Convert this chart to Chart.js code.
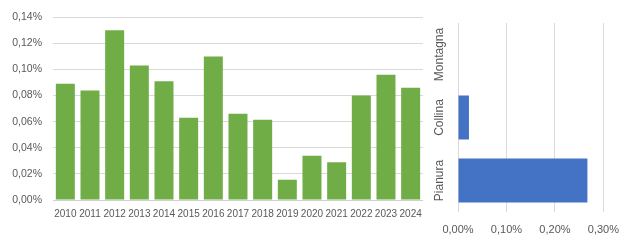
<!DOCTYPE html>
<html>
<head>
<meta charset="utf-8">
<script src="https://cdn.jsdelivr.net/npm/chart.js@4/dist/chart.umd.min.js"></script>
<style>
  html, body { margin: 0; padding: 0; background: #ffffff; }
  #wrap { position: relative; width: 630px; height: 240px; overflow: hidden; }
  #c1 { position: absolute; left: 0; top: 0; }
  #c2 { position: absolute; left: 430px; top: 0; }
</style>
</head>
<body>
<div id="wrap">
  <canvas id="c1" width="430" height="240"></canvas>
  <canvas id="c2" width="200" height="240"></canvas>
</div>
<script>
// ---- data (values in percent) ----
const years = ['2010','2011','2012','2013','2014','2015','2016','2017','2018','2019','2020','2021','2022','2023','2024'];
const yearValues = [0.089, 0.084, 0.130, 0.103, 0.091, 0.063, 0.110, 0.066, 0.0615, 0.0155, 0.034, 0.029, 0.080, 0.096, 0.086];
const leftTickLabels = ['0,00%','0,02%','0,04%','0,06%','0,08%','0,10%','0,12%','0,14%'];

const zones = ['Montagna','Collina','Pianura'];
const zoneValues = [0, 0.0226, 0.267];
const rightTickLabels = ['0,00%','0,10%','0,20%','0,30%'];

const FONT = "'Liberation Sans', Arial, sans-serif";
const TXT = '#595959';
const GRID = '#d9d9d9';

Chart.defaults.animation = false;
Chart.defaults.font.family = FONT;
Chart.defaults.color = TXT;

new Chart(document.getElementById('c1'), {
  type: 'bar',
  data: {
    labels: years,
    datasets: [{ data: yearValues, backgroundColor: '#70ad47', barPercentage: 0.77, categoryPercentage: 1 }]
  },
  options: {
    responsive: false,
    devicePixelRatio: 1,
    layout: { padding: { top: 17, right: 7, left: 0, bottom: 0 } },
    plugins: { legend: { display: false }, tooltip: { enabled: false } },
    scales: {
      x: {
        grid: { display: false, drawTicks: false },
        border: { display: true, color: '#cfcfcf' },
        ticks: { font: { size: 10 }, color: TXT, padding: 8, maxRotation: 0, minRotation: 0, autoSkip: false },
        afterFit: s => { s.height = 40; }
      },
      y: {
        min: 0, max: 0.14,
        grid: { color: GRID, drawTicks: false },
        border: { display: false },
        ticks: {
          stepSize: 0.02, padding: 11, font: { size: 10.5 }, color: TXT,
          callback: (v, i) => leftTickLabels[i]
        },
        afterFit: s => { s.width = 53; }
      }
    }
  }
});

const rotatedLabels = {
  id: 'rotatedLabels',
  afterDraw(chart) {
    const sc = chart.scales.y;
    const ctx = chart.ctx;
    ctx.save();
    ctx.fillStyle = TXT;
    ctx.font = "12px " + FONT;
    ctx.textAlign = 'center';
    ctx.textBaseline = 'middle';
    zones.forEach((z, i) => {
      const y = sc.getPixelForTick(i);
      ctx.save();
      ctx.translate(10, y);
      ctx.rotate(-Math.PI / 2);
      ctx.fillText(z, 0, 0);
      ctx.restore();
    });
    ctx.restore();
  }
};

new Chart(document.getElementById('c2'), {
  type: 'bar',
  data: {
    labels: zones,
    datasets: [{ data: zoneValues, backgroundColor: '#4472c4', barPercentage: 0.7, categoryPercentage: 1 }]
  },
  options: {
    indexAxis: 'y',
    responsive: false,
    devicePixelRatio: 1,
    layout: { padding: { top: 23, right: 26, left: 0, bottom: 0 } },
    plugins: { legend: { display: false }, tooltip: { enabled: false } },
    scales: {
      x: {
        min: 0, max: 0.3,
        grid: { color: GRID, drawTicks: false },
        border: { display: false },
        ticks: {
          stepSize: 0.1, padding: 11, font: { size: 11 }, color: TXT, maxRotation: 0,
          callback: (v, i) => rightTickLabels[i]
        },
        afterFit: s => { s.height = 28; }
      },
      y: {
        grid: { display: false, drawTicks: false },
        border: { display: false },
        ticks: { display: false },
        afterFit: s => { s.width = 28; }
      }
    }
  },
  plugins: [rotatedLabels]
});
</script>
</body>
</html>
